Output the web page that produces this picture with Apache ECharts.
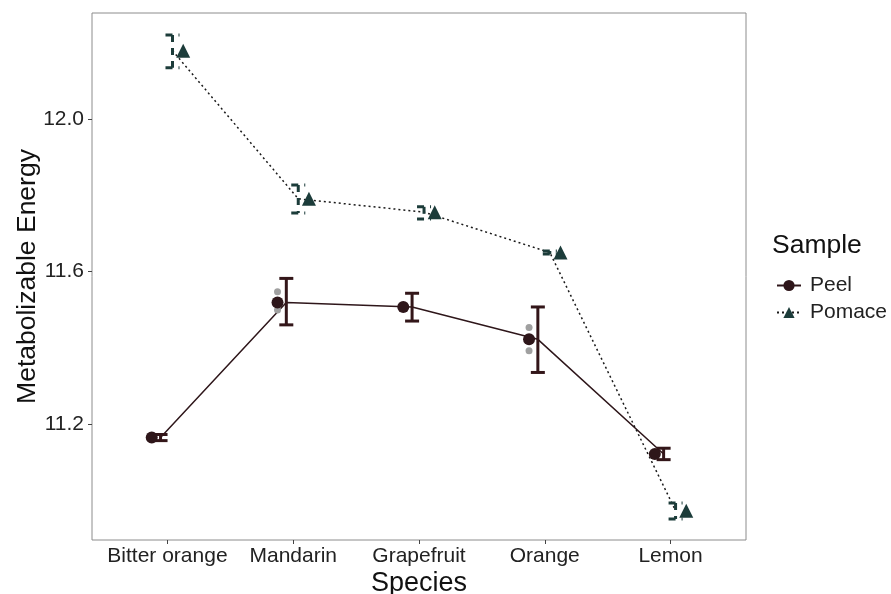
<!DOCTYPE html>
<html>
<head>
<meta charset="utf-8">
<script src="https://cdn.jsdelivr.net/npm/echarts@6/dist/echarts.min.js"></script>
<style>html,body{margin:0;padding:0;background:#fff}#c{width:891px;height:594px}</style>
</head>
<body>
<div id="c"></div>
<script>
var categories = ['Bitter orange', 'Mandarin', 'Grapefruit', 'Orange', 'Lemon'];
var yTicks = [11.2, 11.6, 12.0];

var peelMean = [11.164, 11.519, 11.507, 11.422, 11.121];
var peelLow  = [11.156, 11.460, 11.470, 11.335, 11.106];
var peelHigh = [11.172, 11.582, 11.543, 11.507, 11.136];

var pomaceMean = [12.180, 11.791, 11.756, 11.650, 10.972];
var pomaceLow  = [12.135, 11.754, 11.738, 11.646, 10.950];
var pomaceHigh = [12.221, 11.827, 11.770, 11.654, 10.992];

// raw observations (category index, value)
var peelRawCat = [1, 1, 3, 3];
var peelRawVal = [11.547, 11.499, 11.453, 11.392];

var PEEL_COL = '#2e161a';
var PEEL_BAR = '#331619';
var POM_COL = '#1c3c3a';
var FONT = 'Liberation Sans, Arial, sans-serif';

// dodge offsets (category units)
var OFF_PEEL_PT = -0.125, OFF_PEEL_BAR = -0.055, OFF_POM_BAR = 0.04, OFF_POM_PT = 0.125;

function pts(vals, off) { return vals.map(function (v, i) { return [i + off, v]; }); }
function bars(lo, hi, off) { return lo.map(function (v, i) { return [i + off, v, hi[i]]; }); }

function errRender(color, dash) {
  return function (params, api) {
    var x = api.value(0);
    var p1 = api.coord([x, api.value(1)]);
    var p2 = api.coord([x, api.value(2)]);
    var hw = 7;
    var st = { stroke: color, lineWidth: 3, lineDash: dash, fill: null };
    return {
      type: 'group',
      children: [
        { type: 'line', shape: { x1: p2[0], y1: p2[1], x2: p1[0], y2: p1[1] }, style: st },
        { type: 'line', shape: { x1: p1[0] - hw, y1: p1[1], x2: p1[0] + hw, y2: p1[1] }, style: st },
        { type: 'line', shape: { x1: p2[0] - hw, y1: p2[1], x2: p2[0] + hw, y2: p2[1] }, style: st }
      ]
    };
  };
}

var chart = echarts.init(document.getElementById('c'));
chart.setOption({
  animation: false,
  textStyle: { fontFamily: FONT },
  grid: { left: 92, right: 145, top: 13, bottom: 54, show: true, borderColor: '#8c8c8c', borderWidth: 1,
    backgroundColor: '#fff', containLabel: false, outerBoundsMode: 'none' },
  xAxis: {
    type: 'value', min: -0.6, max: 4.6,
    splitLine: { show: false },
    axisLine: { show: false, onZero: false },
    axisTick: { show: true, length: 4, lineStyle: { color: '#444' }, customValues: [0, 1, 2, 3, 4] },
    axisLabel: { customValues: [0, 1, 2, 3, 4], fontSize: 21, color: '#222', margin: 6, fontFamily: FONT,
      formatter: function (v) { return categories[Math.round(v)]; } },
    name: 'Species', nameLocation: 'middle', nameGap: 30, nameMoveOverlap: false,
    nameTextStyle: { fontSize: 27, color: '#111', fontFamily: FONT, verticalAlign: 'top' }
  },
  yAxis: {
    type: 'value', min: 10.895, max: 12.279,
    splitLine: { show: false },
    axisLine: { show: false, onZero: false },
    axisTick: { show: true, length: 4, lineStyle: { color: '#444' }, customValues: yTicks },
    axisLabel: { customValues: yTicks, fontSize: 21, color: '#222', margin: 8, fontFamily: FONT,
      formatter: function (v) { return v.toFixed(1); } },
    name: 'Metabolizable Energy', nameLocation: 'middle', nameGap: 64, nameRotate: 90, nameMoveOverlap: false,
    nameTextStyle: { fontSize: 26.5, color: '#111', fontFamily: FONT, verticalAlign: 'middle' }
  },
  legend: {
    orient: 'vertical', left: 771, top: 270, itemWidth: 24, itemHeight: 14, itemGap: 6,
    data: ['Peel', 'Pomace'],
    textStyle: { fontSize: 21, color: '#222', fontFamily: FONT, padding: [0, 0, 0, 4] }
  },
  graphic: [{ type: 'text', left: 772, top: 232, style: { text: 'Sample', fontSize: 26.5, fill: '#111', fontFamily: FONT } }],
  series: [
    { name: 'Peel', type: 'line', data: pts(peelMean, OFF_PEEL_BAR), symbol: 'circle', showSymbol: false,
      symbolSize: 12, itemStyle: { color: PEEL_COL }, lineStyle: { color: PEEL_COL, width: 1.5, type: 'solid' }, z: 2 },
    { name: 'Pomace', type: 'line', data: pts(pomaceMean, OFF_POM_BAR), symbol: 'triangle', showSymbol: false,
      symbolSize: 12, itemStyle: { color: POM_COL }, lineStyle: { color: '#1a1a1a', width: 1.5, type: [2, 3] }, z: 2 },
    { type: 'custom', data: bars(peelLow, peelHigh, OFF_PEEL_BAR), renderItem: errRender(PEEL_BAR, null), z: 3 },
    { type: 'custom', data: bars(pomaceLow, pomaceHigh, OFF_POM_BAR), renderItem: errRender(POM_COL, [7, 6]), z: 3 },
    { type: 'scatter', data: peelRawVal.map(function (v, i) { return [peelRawCat[i] + OFF_PEEL_PT, v]; }),
      symbol: 'circle', symbolSize: 7, itemStyle: { color: '#a0a0a0', opacity: 1 }, z: 4, silent: true },
    { type: 'scatter', data: pts(peelMean, OFF_PEEL_PT), symbol: 'circle', symbolSize: 12, itemStyle: { color: PEEL_COL, opacity: 1 }, z: 5 },
    { type: 'scatter', data: pts(pomaceMean, OFF_POM_PT), symbol: 'triangle', symbolSize: 14, itemStyle: { color: POM_COL, opacity: 1 }, z: 5 }
  ]
});
</script>
</body>
</html>
